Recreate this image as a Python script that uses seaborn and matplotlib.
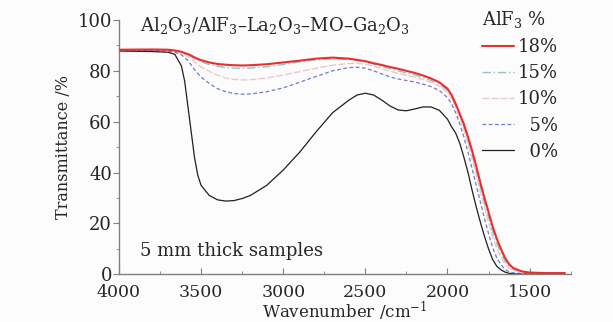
import numpy as np
import pandas as pd
import matplotlib
matplotlib.use('Agg')
import matplotlib.pyplot as plt
import seaborn as sns
from matplotlib.ticker import MultipleLocator

# wavenumber grid (cm-1) shared by all spectra
wavenumber = [4000, 3800, 3700, 3660, 3620, 3600, 3580, 3560, 3540, 3520, 3500, 3450, 3400, 3350,
              3300, 3250, 3200, 3100, 3000, 2900, 2800, 2700, 2600, 2550, 2500, 2450, 2400, 2350,
              2300, 2250, 2200, 2150, 2100, 2050, 2000, 1975, 1950, 1925, 1900, 1875, 1850, 1825,
              1800, 1775, 1750, 1725, 1700, 1675, 1650, 1625, 1600, 1550, 1500, 1400, 1300, 1285]

# transmittance (%)
t_18 = [88.3, 88.4, 88.3, 88.0, 87.5, 87.0, 86.6, 86.0, 85.3, 84.7, 84.2, 83.3, 82.7, 82.4,
        82.2, 82.1, 82.2, 82.6, 83.3, 84.0, 84.8, 85.2, 84.8, 84.3, 83.8, 83.0, 82.3, 81.5,
        80.8, 80.0, 79.2, 78.2, 77.0, 75.5, 73.0, 70.5, 67.0, 63.0, 59.0, 54.0, 48.5, 42.5,
        36.0, 30.0, 24.5, 18.7, 14.0, 10.0, 6.5, 4.0, 2.5, 1.2, 0.7, 0.5, 0.5, 0.5]
t_15 = [88.1, 88.2, 88.1, 87.8, 87.3, 86.8, 86.3, 85.6, 84.8, 84.1, 83.5, 82.5, 81.8, 81.3,
        81.1, 81.0, 81.1, 81.6, 82.5, 83.5, 84.3, 84.7, 84.5, 84.1, 83.5, 82.7, 81.8, 80.8,
        80.0, 79.2, 78.4, 77.4, 76.2, 74.7, 72.3, 69.8, 66.3, 62.2, 57.8, 52.7, 47.0, 40.8,
        34.3, 28.2, 22.5, 16.8, 12.2, 8.4, 5.3, 3.2, 2.0, 0.9, 0.5, 0.5, 0.5, 0.5]
t_10 = [88.2, 88.3, 88.0, 87.7, 87.0, 86.4, 85.6, 84.6, 83.5, 82.5, 81.6, 79.8, 78.3, 77.2,
        76.6, 76.4, 76.5, 77.2, 78.3, 79.7, 81.0, 82.2, 82.9, 83.0, 82.6, 81.8, 80.8, 79.8,
        79.0, 78.3, 77.5, 76.6, 75.5, 74.0, 71.5, 69.0, 65.5, 61.3, 56.7, 51.3, 45.3, 39.0,
        32.5, 26.2, 20.3, 14.8, 10.2, 6.8, 4.2, 2.5, 1.5, 0.7, 0.4, 0.4, 0.4, 0.4]
t_5 = [88.0, 88.0, 87.8, 87.3, 86.3, 85.3, 84.0, 82.3, 80.5, 79.0, 77.6, 75.0, 73.0, 71.8,
       71.1, 70.8, 70.9, 71.8, 73.3, 75.5, 77.8, 80.0, 81.3, 81.4, 81.0, 80.0, 78.8, 77.6,
       76.8, 76.2, 75.6, 74.8, 73.8, 72.3, 69.5, 67.0, 63.5, 59.0, 54.0, 48.0, 41.5, 35.0,
       28.5, 22.0, 16.0, 10.5, 6.5, 3.8, 2.0, 1.0, 0.6, 0.3, 0.2, 0.2, 0.2, 0.2]
t_0 = [87.8, 87.6, 87.3, 86.5, 82.0, 76.0, 66.0, 56.0, 46.0, 39.0, 35.0, 31.0, 29.3, 28.8,
       29.0, 29.8, 31.0, 35.0, 41.0, 48.0, 56.0, 63.5, 68.5, 70.5, 71.2, 70.5, 68.5, 66.2,
       64.6, 64.3, 65.0, 65.8, 65.8, 64.5, 61.0, 58.0, 55.5, 51.5, 46.0, 40.0, 33.0, 26.5,
       20.5, 15.0, 10.0, 5.8, 3.2, 1.8, 0.9, 0.4, 0.2, 0.05, 0.0, 0.0, 0.0, 0.0]

labels = ['18%', '15%', '10%', '5%', '0%']
series = [t_18, t_15, t_10, t_5, t_0]
colors = {'18%': '#e8302c', '15%': '#8cc4c8', '10%': '#f2c4cc', '5%': '#6c7cc8', '0%': '#202020'}
dashes = {'18%': '', '15%': (6, 2, 1, 2), '10%': (5, 1.5), '5%': (3, 2), '0%': ''}
widths = {'18%': 1.5, '15%': 1.0, '10%': 1.0, '5%': 0.9, '0%': 0.9}

df = pd.concat([pd.DataFrame({'wn': wavenumber, 'T': s, 'AlF3': lab})
                for lab, s in zip(labels, series)], ignore_index=True)

sns.set_style('ticks')
plt.rcParams['font.family'] = ['DejaVu Serif']
plt.rcParams['mathtext.fontset'] = 'dejavuserif'

fig = plt.figure(figsize=(6.13, 3.22), dpi=100, facecolor='#fcfcfc')
ax = fig.add_axes([0.194, 0.148, 0.737, 0.79])
ax.set_facecolor('#fcfcfc')

sns.lineplot(data=df, x='wn', y='T', hue='AlF3', style='AlF3', hue_order=labels,
             style_order=labels, palette=colors, dashes=dashes, estimator=None,
             legend=False, ax=ax)
for line, lab in zip(ax.lines, labels):
    line.set_linewidth(widths[lab])
ax.lines[0].set_zorder(5)

ax.set_xlim(4000, 1250)
ax.set_ylim(0, 100)
ax.xaxis.set_major_locator(MultipleLocator(500))
ax.xaxis.set_minor_locator(MultipleLocator(250))
ax.yaxis.set_major_locator(MultipleLocator(20))
ax.yaxis.set_minor_locator(MultipleLocator(10))
ax.tick_params(axis='x', which='both', direction='in', length=4, color='#808080', labelsize=12.5, pad=7)
ax.tick_params(axis='x', which='minor', length=2.5)
ax.tick_params(axis='y', which='both', direction='out', length=4, color='#808080', labelsize=13, pad=1)
ax.tick_params(axis='y', which='minor', length=2.5)
sns.despine(ax=ax)
for sp in ['left', 'bottom']:
    ax.spines[sp].set_color('#808080')
    ax.spines[sp].set_linewidth(1.0)

ax.set_xlabel('Wavenumber /cm$^{-1}$', fontsize=12, labelpad=-1)
ax.set_ylabel('Transmittance /%', fontsize=11.5, labelpad=4)

ax.text(3870, 98, 'Al$_2$O$_3$/AlF$_3$–La$_2$O$_3$–MO–Ga$_2$O$_3$', fontsize=13, va='center')
ax.text(3870, 9, '5 mm thick samples', fontsize=13, va='center')

leg = ax.legend(handles=ax.lines, labels=['18%', '15%', '10%', '\u20075%', '\u20070%'],
                title='AlF$_3$ %', loc='upper right', bbox_to_anchor=(0.925, 1.0),
                bbox_transform=fig.transFigure, frameon=False, fontsize=13,
                title_fontsize=13, handlelength=1.8, handletextpad=0.2, labelspacing=0.45,
                borderaxespad=0.1)
leg._legend_box.align = 'left'

fig.savefig('out.png', dpi=100, facecolor=fig.get_facecolor())
